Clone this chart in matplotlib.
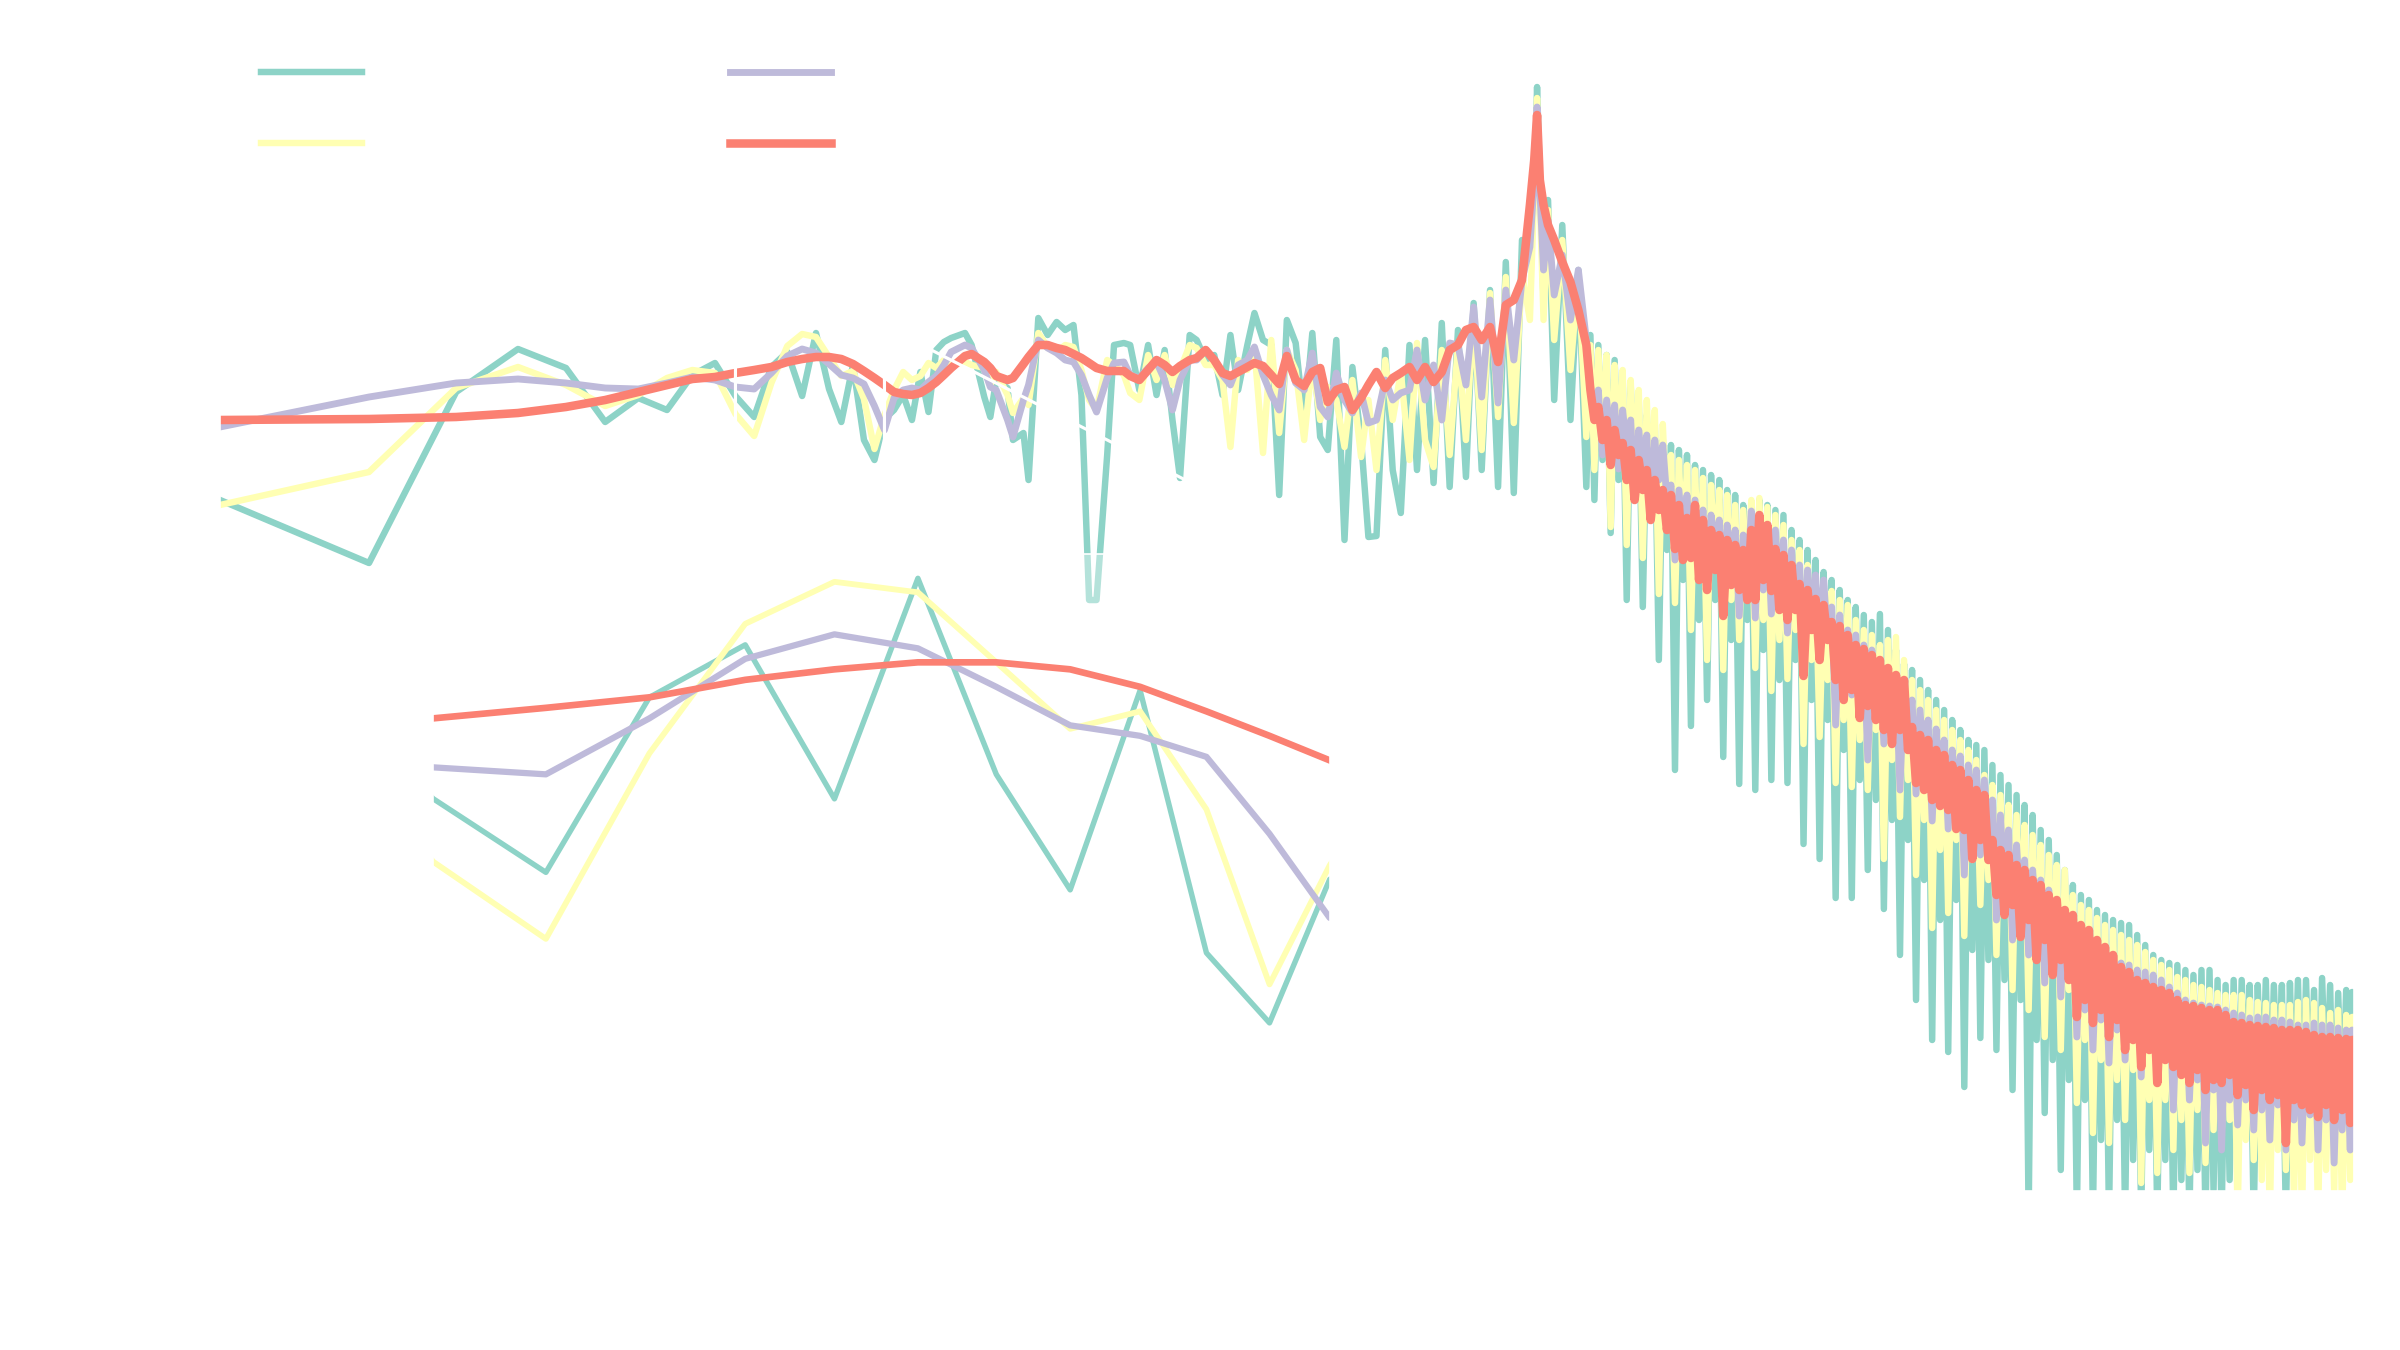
#!/usr/bin/env python3
"""Power spectra of four channels, log frequency axis, with a zoom on the low bins."""

import matplotlib
matplotlib.use("Agg")
import matplotlib.pyplot as plt
import numpy as np

COLORS = ["#8dd3c7", "#ffffb3", "#bebada", "#fb8072"]
LABELS = ["Channel 1", "Channel 2", "Channel 3", "Channel 4"]
MAIN_LW = [3.1, 3.1, 3.3, 4.1]
INSET_LW = [2.6, 2.8, 3.0, 3.2]

# frequency bins (Hz): every bin up to 30, then a thinned set of bins
freq_low = list(range(1, 31))
freq_dense = [
    32, 33, 35, 36, 37, 39, 40, 42, 43, 45,
    47, 49, 51, 53, 55, 57, 59, 62, 64, 67,
    69, 72, 75, 78, 81, 84, 87, 91, 94, 98,
    102, 106, 110, 114, 119, 123, 128, 133, 138, 143,
    149, 155, 161, 167, 173, 180, 187, 194, 202, 209,
    217, 226, 234, 243, 253, 262, 272, 283, 294, 305,
    317, 329, 341, 354, 368, 382, 396, 411, 427, 443,
    452, 458, 464, 472, 482, 496, 515, 535, 555, 576,
    587, 598, 609, 621, 633, 645, 657, 669, 682, 695,
    708, 721, 735, 749, 763, 777, 792, 807, 822, 838,
    854, 870, 886, 903, 920, 937, 955, 973, 991, 1010,
    1029, 1049, 1069, 1089, 1109, 1130, 1151, 1173, 1195, 1218,
    1241, 1264, 1288, 1312, 1337, 1362, 1388, 1414, 1441, 1468,
    1496, 1524, 1553, 1582, 1612, 1642, 1673, 1705, 1737, 1770,
    1803, 1837, 1872, 1907, 1943, 1980, 2017, 2055, 2094, 2133,
    2174, 2215, 2257, 2299, 2343, 2387, 2432, 2478, 2525, 2572,
    2621, 2670, 2720, 2772, 2824, 2878, 2932, 2987, 3043, 3101,
    3159, 3219, 3280, 3342, 3405, 3469, 3534, 3601, 3669, 3739,
    3809, 3881, 3954, 4029, 4105, 4183, 4262, 4342, 4424, 4508,
    4593, 4679, 4768, 4858, 4950, 5043, 5138, 5235, 5334, 5435,
    5538, 5642, 5748, 5857, 5967, 6080, 6195, 6312, 6431, 6552,
    6676, 6802, 6930, 7061, 7194, 7330, 7469, 7610, 7754, 7900,
    8049, 8201, 8356, 8513, 8674, 8838, 9004, 9174, 9347, 9524,
    9704, 9887, 10074, 10264, 10458, 10655, 10856, 11061, 11270, 11483,
    11700, 11920, 12146, 12375, 12608, 12846, 13089, 13336, 13588, 13844,
    14106, 14372, 14643, 14919, 15201, 15488, 15780, 16078, 16382, 16691,
    17006, 17327, 17654, 17987, 18327, 18673, 19025, 19384, 19750, 20123,
    20300, 20480,
]

# PSD in dB
ch1_low = [-50.0, -56.3, -39.2, -34.9, -36.8, -42.2, -39.8, -41.0, -37.5, -36.3,
           -39.6, -41.7, -36.7, -35.2, -39.6, -33.3, -38.9, -42.2, -36.5, -44.0,
           -46.0, -41.9, -41.0, -39.5, -42.0, -37.2, -41.2, -35.0, -34.2, -33.8]
ch2_low = [-50.5, -47.2, -38.8, -36.7, -38.5, -40.6, -39.5, -37.8, -37.0, -37.3,
           -41.4, -43.6, -38.3, -34.6, -33.4, -33.7, -35.7, -37.6, -37.1, -39.9,
           -44.9, -41.5, -39.0, -37.2, -38.0, -37.6, -36.3, -36.8, -36.0, -36.5]
ch3_low = [-42.7, -39.7, -38.3, -37.9, -38.3, -38.8, -38.9, -38.3, -37.7, -38.0,
           -38.7, -38.9, -37.3, -35.6, -34.9, -35.3, -36.4, -37.5, -37.8, -38.4,
           -40.6, -43.0, -39.8, -39.0, -38.8, -39.0, -38.2, -37.6, -36.5, -35.2]
ch4_low = [-42.0, -41.9, -41.7, -41.3, -40.7, -40.0, -39.2, -38.5, -37.9, -37.7,
           -37.3, -37.0, -36.7, -36.2, -35.9, -35.7, -35.7, -35.9, -36.4, -37.1,
           -37.8, -38.5, -39.2, -39.4, -39.5, -39.3, -38.8, -38.2, -37.5, -36.8]

ch1_dense = [
    -33.3, -34.5, -39.7, -41.7, -38.0, -38.8, -44.0, -43.3, -48.0, -31.8,
    -33.5, -32.2, -33.0, -32.5, -39.5, -60.0, -60.0, -45.5, -34.5, -34.3,
    -34.5, -39.0, -34.5, -39.5, -35.0, -42.0, -47.8, -33.5, -34.0, -36.0,
    -35.5, -39.5, -33.5, -39.0, -34.5, -31.3, -34.0, -34.5, -49.5, -32.0,
    -34.3, -42.3, -33.3, -43.7, -45.0, -34.0, -54.0, -36.7, -44.0, -53.7,
    -53.6, -35.0, -47.0, -51.3, -34.5, -47.0, -34.0, -48.3, -32.3, -48.7,
    -33.0, -47.7, -30.3, -47.0, -29.0, -48.7, -26.2, -49.3, -24.0, -25.0,
    -20.0, -8.7, -18.0, -30.0, -20.0, -40.0, -22.5, -42.0, -27.0, -48.7,
    -33.5, -50.0, -34.5, -46.0, -35.5, -53.3, -36.0, -48.0, -37.5, -60.0,
    -38.5, -50.0, -40.0, -60.7, -41.5, -52.0, -42.5, -66.0, -44.0, -55.0,
    -44.5, -77.0, -45.0, -58.0, -45.5, -72.6, -46.5, -62.0, -47.0, -70.0,
    -47.5, -60.0, -48.0, -75.7, -49.0, -64.0, -49.5, -78.4, -50.5, -62.0,
    -50.5, -79.0, -50.0, -65.0, -50.5, -78.0, -51.0, -68.0, -51.5, -78.3,
    -53.0, -66.0, -54.0, -84.4, -55.0, -70.0, -56.0, -85.9, -57.2, -72.0,
    -58.0, -89.8, -59.0, -75.0, -60.0, -89.8, -60.7, -78.0, -61.5, -87.0,
    -62.2, -80.0, -61.4, -90.9, -63.0, -82.0, -65.0, -95.5, -66.4, -84.0,
    -67.0, -100.0, -68.0, -88.0, -69.0, -104.0, -70.0, -92.0, -71.0, -105.2,
    -72.0, -90.0, -73.0, -108.7, -74.0, -95.0, -74.5, -103.8, -75.0, -96.0,
    -76.5, -105.0, -77.5, -98.0, -78.5, -109.0, -79.5, -100.0, -80.5, -122.0,
    -81.5, -104.0, -83.0, -111.3, -84.0, -106.0, -85.5, -117.0, -87.0, -108.0,
    -88.5, -122.0, -89.5, -110.0, -90.0, -122.0, -91.0, -114.0, -91.5, -122.0,
    -92.0, -112.0, -92.3, -122.0, -92.5, -116.0, -93.5, -122.0, -94.5, -115.0,
    -95.5, -122.0, -96.0, -116.0, -96.3, -122.0, -96.5, -118.0, -97.0, -122.0,
    -97.5, -117.0, -97.0, -122.0, -97.0, -119.0, -98.0, -122.0, -98.5, -118.0,
    -98.0, -115.0, -98.0, -110.0, -98.5, -122.0, -98.5, -112.0, -98.0, -114.0,
    -98.5, -110.0, -98.5, -122.0, -98.3, -112.0, -98.0, -116.0, -98.0, -111.0,
    -99.0, -117.0, -97.8, -110.0, -98.5, -116.0, -99.3, -112.0, -99.0, -114.0,
    -99.2, -99.5,
]
ch2_dense = [
    -36.2, -36.5, -36.8, -38.5, -37.2, -39.5, -41.3, -39.8, -40.5, -33.3,
    -34.7, -35.2, -34.5, -34.7, -37.0, -40.0, -41.0, -36.0, -36.5, -37.5,
    -39.3, -40.0, -35.5, -38.0, -35.5, -38.5, -37.0, -34.5, -34.8, -36.5,
    -36.5, -38.0, -44.7, -36.0, -37.0, -35.0, -45.3, -34.0, -43.3, -35.0,
    -37.0, -44.0, -36.0, -42.0, -38.7, -40.0, -44.7, -38.0, -45.7, -40.0,
    -47.0, -36.0, -42.0, -37.2, -46.0, -34.3, -44.0, -46.7, -35.0, -45.5,
    -34.5, -44.0, -31.3, -45.0, -29.3, -41.7, -27.7, -42.3, -27.3, -32.0,
    -19.0, -9.8, -20.0, -32.0, -21.0, -34.0, -24.0, -37.0, -27.5, -43.7,
    -34.5, -47.0, -35.0, -44.0, -35.5, -52.7, -36.5, -46.0, -37.0, -54.5,
    -38.0, -48.0, -39.0, -55.8, -40.0, -50.0, -41.0, -59.4, -42.4, -52.0,
    -45.5, -60.3, -46.0, -56.0, -46.5, -63.0, -47.0, -58.0, -47.8, -66.0,
    -48.5, -57.0, -49.0, -67.0, -49.5, -60.0, -50.5, -64.0, -51.0, -59.0,
    -50.0, -66.8, -49.8, -62.0, -50.7, -69.1, -51.5, -64.0, -52.5, -67.9,
    -54.0, -63.0, -55.0, -74.4, -56.5, -66.0, -58.0, -73.7, -59.1, -68.0,
    -59.1, -78.3, -60.0, -72.0, -60.5, -78.7, -62.0, -74.0, -63.0, -79.0,
    -63.5, -73.0, -64.5, -85.9, -64.0, -76.0, -63.7, -81.7, -66.0, -78.0,
    -68.0, -87.5, -69.0, -82.0, -70.0, -92.8, -71.0, -85.0, -72.0, -91.3,
    -73.0, -84.0, -74.0, -93.6, -75.0, -86.0, -76.0, -90.5, -77.5, -88.0,
    -78.5, -95.5, -79.5, -91.0, -80.5, -99.0, -81.5, -93.0, -82.5, -101.0,
    -83.5, -95.0, -84.5, -103.7, -85.5, -97.0, -86.5, -105.0, -87.0, -99.0,
    -89.5, -110.3, -90.5, -104.0, -91.0, -113.3, -91.8, -106.0, -92.5, -114.3,
    -93.0, -108.0, -93.5, -112.0, -94.0, -107.0, -94.5, -118.3, -95.2, -110.0,
    -96.0, -117.3, -96.5, -110.0, -97.0, -115.0, -97.7, -112.0, -98.0, -117.3,
    -98.5, -111.0, -98.7, -116.3, -99.0, -113.0, -99.3, -113.7, -99.5, -112.0,
    -99.5, -122.0, -99.5, -114.0, -100.0, -116.0, -100.2, -118.0, -100.3, -122.0,
    -100.5, -115.0, -100.5, -117.0, -100.5, -120.0, -100.2, -122.0, -100.0, -116.0,
    -100.3, -122.0, -100.8, -117.0, -101.3, -119.0, -101.0, -122.0, -101.5, -118.0,
    -101.7, -101.7,
]
ch3_dense = [
    -34.5, -34.8, -37.0, -38.7, -39.0, -42.0, -43.7, -40.0, -38.5, -34.0,
    -34.8, -35.3, -36.0, -36.2, -37.5, -39.5, -41.2, -37.8, -36.3, -36.2,
    -37.5, -37.8, -36.8, -36.2, -38.0, -41.0, -38.0, -36.0, -36.0, -35.0,
    -36.0, -37.5, -38.5, -36.5, -36.0, -34.7, -37.5, -39.5, -41.0, -35.0,
    -38.3, -39.0, -35.3, -40.7, -41.7, -37.3, -40.0, -41.3, -39.3, -42.3,
    -42.0, -38.0, -40.0, -39.3, -39.0, -35.0, -40.0, -36.5, -42.0, -34.3,
    -34.5, -38.5, -30.7, -39.7, -30.0, -40.3, -29.0, -36.0, -28.0, -24.7,
    -18.0, -10.7, -19.0, -27.0, -22.0, -29.5, -25.5, -32.0, -27.0, -34.0,
    -38.5, -42.0, -39.0, -45.5, -40.0, -44.0, -40.5, -46.9, -41.0, -45.0,
    -42.0, -50.0, -43.0, -47.0, -43.5, -51.3, -44.0, -48.0, -44.5, -50.0,
    -48.5, -56.0, -49.0, -54.0, -49.5, -55.8, -50.0, -56.0, -51.0, -58.0,
    -51.5, -55.0, -52.0, -60.0, -52.5, -57.0, -53.0, -61.6, -53.5, -58.0,
    -51.1, -61.8, -51.5, -59.0, -52.5, -61.4, -53.0, -60.0, -54.0, -63.3,
    -55.0, -61.0, -56.5, -66.8, -57.0, -63.0, -57.5, -65.3, -58.0, -64.0,
    -60.7, -72.5, -61.5, -68.0, -63.0, -69.5, -63.5, -71.0, -64.5, -76.0,
    -65.0, -70.0, -66.0, -74.4, -67.0, -73.0, -68.0, -79.0, -68.3, -74.0,
    -70.0, -79.4, -71.0, -77.0, -72.0, -82.1, -72.9, -79.0, -74.0, -82.9,
    -75.0, -80.0, -75.6, -87.5, -76.5, -82.0, -77.0, -85.5, -78.0, -84.0,
    -80.0, -92.0, -81.5, -89.0, -83.0, -94.0, -84.5, -91.0, -86.0, -95.5,
    -87.0, -93.0, -88.0, -98.3, -89.0, -95.0, -90.0, -99.7, -91.0, -97.0,
    -92.0, -103.7, -93.0, -101.0, -93.5, -105.0, -94.0, -102.0, -95.0, -106.3,
    -95.5, -103.0, -96.3, -106.0, -96.5, -104.0, -97.0, -107.7, -97.2, -105.0,
    -97.5, -108.3, -98.0, -106.0, -98.7, -111.0, -99.3, -107.0, -100.0, -110.0,
    -100.3, -108.0, -100.5, -114.3, -100.6, -109.0, -100.7, -115.0, -101.0, -110.0,
    -101.3, -112.5, -101.5, -110.0, -101.8, -113.0, -101.7, -111.0, -101.7, -114.0,
    -102.0, -110.5, -102.0, -115.0, -102.2, -112.0, -102.5, -114.3, -102.5, -111.5,
    -102.3, -115.0, -102.5, -112.0, -102.5, -116.3, -102.8, -113.0, -103.0, -115.0,
    -103.0, -113.7,
]
ch4_dense = [
    -35.6, -35.4, -36.2, -36.8, -37.6, -38.0, -37.8, -36.4, -35.7, -34.5,
    -34.5, -34.8, -35.0, -35.4, -35.8, -36.3, -36.8, -37.1, -37.1, -37.1,
    -37.6, -38.0, -37.0, -36.0, -36.5, -37.2, -36.6, -36.0, -35.8, -35.0,
    -36.0, -37.3, -37.6, -37.2, -36.7, -36.3, -36.6, -37.5, -38.4, -35.6,
    -38.0, -38.6, -37.2, -36.8, -40.2, -39.0, -38.7, -41.0, -39.8, -38.5,
    -37.2, -38.8, -37.8, -37.3, -36.7, -38.0, -36.7, -38.2, -37.2, -35.0,
    -34.5, -33.0, -32.7, -34.0, -32.7, -36.2, -30.5, -30.0, -28.0, -20.5,
    -16.0, -11.5, -18.0, -20.5, -22.5, -24.0, -26.2, -28.2, -31.0, -34.5,
    -39.0, -42.0, -40.7, -44.0, -42.0, -46.5, -43.0, -45.5, -44.3, -48.0,
    -45.0, -50.0, -46.0, -49.0, -47.0, -52.0, -48.0, -51.0, -49.0, -53.0,
    -49.5, -54.9, -50.5, -56.0, -51.8, -55.8, -50.5, -58.0, -52.0, -59.0,
    -53.0, -57.0, -53.5, -61.6, -54.0, -58.5, -54.5, -59.0, -55.0, -60.0,
    -53.0, -60.0, -51.5, -58.0, -52.5, -59.1, -54.9, -61.0, -55.5, -62.0,
    -56.5, -61.0, -58.4, -67.6, -59.0, -63.0, -59.9, -66.0, -60.5, -64.0,
    -62.2, -68.0, -62.6, -70.0, -63.5, -69.0, -64.5, -71.8, -64.9, -70.6,
    -65.5, -72.0, -66.0, -73.0, -66.8, -74.4, -67.5, -73.0, -68.0, -75.0,
    -72.7, -78.3, -73.5, -79.0, -74.0, -80.0, -75.0, -80.6, -75.5, -81.0,
    -76.5, -82.9, -77.0, -83.0, -78.0, -85.9, -79.0, -84.0, -79.5, -86.0,
    -84.0, -89.5, -85.0, -91.5, -85.5, -90.5, -86.5, -93.7, -87.0, -92.0,
    -88.0, -96.0, -88.5, -94.0, -89.5, -97.5, -90.0, -96.0, -91.0, -98.0,
    -91.5, -101.7, -92.5, -100.0, -93.0, -102.3, -94.0, -101.0, -94.7, -103.7,
    -95.5, -102.0, -96.7, -105.0, -97.2, -104.0, -98.0, -106.7, -98.3, -105.0,
    -98.7, -108.3, -99.0, -106.0, -99.3, -106.7, -100.0, -107.5, -100.5, -108.3,
    -100.6, -107.0, -100.8, -109.0, -101.0, -108.0, -101.0, -108.3, -101.5, -107.5,
    -102.2, -109.5, -102.3, -108.5, -102.5, -111.0, -102.6, -109.0, -102.7, -110.0,
    -102.8, -109.5, -103.0, -114.3, -103.0, -110.0, -103.0, -110.5, -103.2, -111.0,
    -103.5, -111.7, -103.7, -110.5, -103.7, -112.0, -103.8, -111.0, -103.9, -112.3,
    -104.0, -104.0,
]


def main():
    freq = np.array(freq_low + freq_dense, dtype=float)
    spectra = [
        np.array(ch1_low + ch1_dense),
        np.array(ch2_low + ch2_dense),
        np.array(ch3_low + ch3_dense),
        np.array(ch4_low + ch4_dense),
    ]

    fig = plt.figure(figsize=(16, 9), dpi=150)
    ax = fig.add_axes([220 / 2400, 159 / 1350, 2134 / 2400, 1191 / 1350])

    for vals, color, label, lw in zip(spectra, COLORS, LABELS, MAIN_LW):
        ax.plot(freq, vals, color=color, linewidth=lw, label=label)

    ax.set_xscale("log")
    ax.set_xlim(1, 20480)
    ax.set_ylim(-119.1, 0)
    ax.set_yticks([-110, -90, -70, -50, -30, -10])
    ax.set_xlabel("Frequency (Hz)", color="white", fontsize=16)
    ax.set_ylabel("PSD (dB)", color="white", fontsize=16)
    ax.tick_params(which="both", colors="white", labelcolor="white")
    for sp in ax.spines.values():
        sp.set_color("white")

    leg = ax.legend(loc="upper left", bbox_to_anchor=(0, 0.99), ncol=2, fontsize=22,
                    handlelength=2.2, labelspacing=0.57, columnspacing=2.17,
                    frameon=False)
    for txt in leg.get_texts():
        txt.set_color("white")

    # zoom on the first octave
    axins = ax.inset_axes([0.1, 0.1, 0.42, 0.435])
    for vals, color, lw in zip(spectra, COLORS, INSET_LW):
        axins.plot(freq, vals, color=color, linewidth=lw)
    axins.set_xscale("log")
    axins.set_xlim(11, 22)
    axins.set_ylim(-47.4, -32.6)
    axins.set_xticks([12, 15, 20])
    axins.set_xticklabels(["12", "15", "20"])
    axins.xaxis.set_minor_locator(matplotlib.ticker.NullLocator())
    axins.set_yticks([-45, -40, -35])
    axins.set_facecolor((1, 1, 1, 0.35))
    axins.tick_params(which="both", colors="white", labelcolor="white", labelsize=12)
    for sp in axins.spines.values():
        sp.set_color("white")
    ax.indicate_inset_zoom(axins, edgecolor="white", alpha=1.0, linewidth=1.5)

    fig.savefig("out.png", dpi=150, facecolor="white")
    plt.close(fig)
    print("Saved: out.png")


if __name__ == "__main__":
    main()
